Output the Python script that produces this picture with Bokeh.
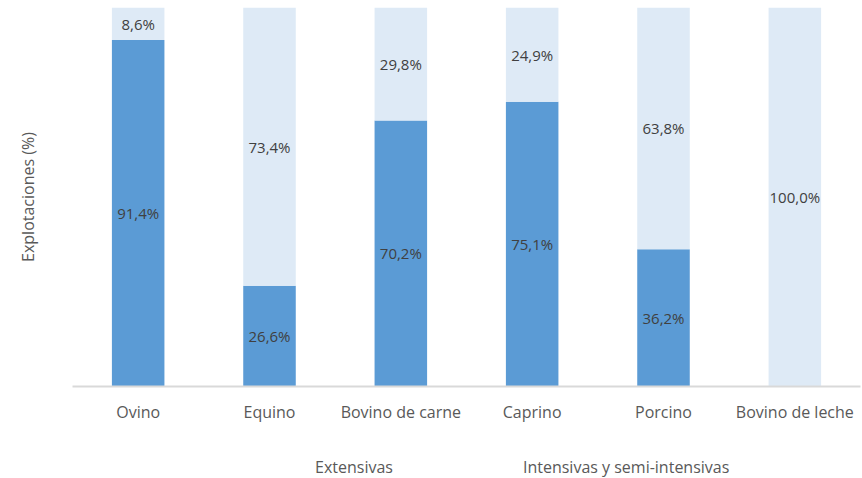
from bokeh.plotting import figure
from bokeh.layouts import column
from bokeh.models import ColumnDataSource, Legend, LegendItem, LabelSet, Range1d, FactorRange
from bokeh.core.properties import value
from bokeh.embed import file_html
from bokeh.resources import INLINE

categories = ["Ovino", "Equino", "Bovino de carne", "Caprino", "Porcino", "Bovino de leche"]
extensivas = [91.4, 26.6, 70.2, 75.1, 36.2, 0.0]
intensivas = [8.6, 73.4, 29.8, 24.9, 63.8, 100.0]
series_names = ["Extensivas", "Intensivas y semi-intensivas"]
colors = ["#5B9BD5", "#DEEAF6"]

FONT = "Open Sans"

src = ColumnDataSource(dict(cat=categories, ext=extensivas, inten=intensivas))

p = figure(frame_width=788, frame_height=379, x_range=FactorRange(*categories, range_padding=0),
           y_range=Range1d(0, 100), output_backend="svg", toolbar_location=None,
           min_border_left=72, min_border_right=2, min_border_top=7, min_border_bottom=40)

r = p.vbar_stack(["ext", "inten"], x="cat", width=0.4, color=colors, source=src, line_color=None)

def fmt(v):
    return f"{v:.1f}".replace(".", ",") + "%"

# labels for each segment
lab_x, lab_y, lab_t = [], [], []
for c, e, i in zip(categories, extensivas, intensivas):
    if e > 0:
        lab_x.append(c); lab_y.append(e / 2); lab_t.append(fmt(e))
    if i > 0:
        lab_x.append(c); lab_y.append(e + i / 2); lab_t.append(fmt(i))
lsrc = ColumnDataSource(dict(x=lab_x, y=lab_y, t=lab_t))
p.add_layout(LabelSet(x="x", y="y", text="t", source=lsrc, text_align="center",
                      text_baseline="middle", text_font=value(FONT), text_font_size=value("15px"),
                      text_color="#404040"))

p.xgrid.grid_line_color = None
p.ygrid.grid_line_color = None
p.outline_line_color = None

p.xaxis.axis_line_color = "#D9D9D9"
p.xaxis.axis_line_width = 2
p.xaxis.major_tick_line_color = None
p.xaxis.major_tick_out = 0
p.xaxis.minor_tick_line_color = None
p.xaxis.major_label_text_font = FONT
p.xaxis.major_label_text_font_size = "16px"
p.xaxis.major_label_text_color = "#595959"
p.xaxis.major_label_standoff = 14

p.yaxis.ticker = []
p.yaxis.axis_line_color = None
p.yaxis.major_tick_line_color = None
p.yaxis.minor_tick_line_color = None
p.yaxis.major_tick_out = 0
p.yaxis.axis_label = "Explotaciones (%)"
p.yaxis.axis_label_text_font = FONT
p.yaxis.axis_label_text_font_style = "normal"
p.yaxis.axis_label_text_font_size = "16px"
p.yaxis.axis_label_text_color = "#595959"
p.yaxis.axis_label_standoff = 34

# legend strip below the chart
p2 = figure(width=862, height=52, x_range=Range1d(0, 1), y_range=Range1d(0, 1),
            output_backend="svg", toolbar_location=None, min_border=0)
p2.axis.visible = False
p2.xgrid.grid_line_color = None
p2.ygrid.grid_line_color = None
p2.outline_line_color = None
d0 = p2.vbar(x=[], top=[], width=0.1, color=colors[0], line_color=None)
d1 = p2.vbar(x=[], top=[], width=0.1, color=colors[1], line_color=None)

legend = Legend(items=[LegendItem(label=series_names[0], renderers=[d0]),
                       LegendItem(label=series_names[1], renderers=[d1])],
                orientation="horizontal", location=(229, 0), padding=0, margin=0,
                spacing=116, glyph_width=11, glyph_height=11, label_standoff=3,
                label_text_font=FONT, label_text_font_size="16px",
                label_text_color="#595959", border_line_color=None,
                background_fill_alpha=0)
p2.add_layout(legend, "center")

layout = column(p, p2, spacing=0)

open("out.html", "w").write(file_html(layout, INLINE))
